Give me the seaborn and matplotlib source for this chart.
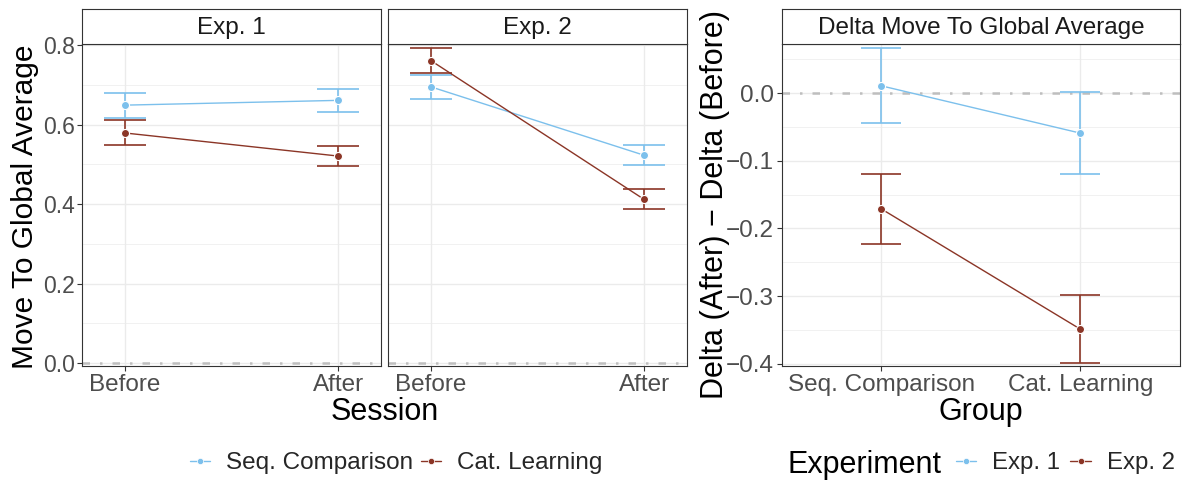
import numpy as np
import pandas as pd
import matplotlib
matplotlib.use("Agg")
import matplotlib.pyplot as plt
from matplotlib.lines import Line2D
import seaborn as sns

# ---------------- data ----------------
sessions = ["Before", "After"]
groups = ["Seq. Comparison", "Cat. Learning"]
experiments = ["Exp. 1", "Exp. 2"]

# Exp. 1 (left panel): mean, lower, upper per session
exp1_seq_mean = [0.649, 0.661]
exp1_seq_lo = [0.617, 0.632]
exp1_seq_hi = [0.680, 0.689]
exp1_cat_mean = [0.579, 0.521]
exp1_cat_lo = [0.548, 0.495]
exp1_cat_hi = [0.611, 0.547]

# Exp. 2 (middle panel)
exp2_seq_mean = [0.695, 0.523]
exp2_seq_lo = [0.664, 0.498]
exp2_seq_hi = [0.726, 0.548]
exp2_cat_mean = [0.761, 0.412]
exp2_cat_lo = [0.729, 0.387]
exp2_cat_hi = [0.792, 0.437]

# Delta panel (right): per experiment, values for groups
delta_exp1_mean = [0.011, -0.059]
delta_exp1_lo = [-0.044, -0.120]
delta_exp1_hi = [0.067, 0.002]
delta_exp2_mean = [-0.171, -0.349]
delta_exp2_lo = [-0.223, -0.399]
delta_exp2_hi = [-0.120, -0.298]

BLUE = "#7CC0EC"
RED = "#8B3526"

W, H = 1190, 480
sns.set_theme(style="white")

SANS = "Liberation Sans"
plt.rcParams["font.family"] = [SANS, "DejaVu Sans"]
plt.rcParams["axes.unicode_minus"] = True

TICK = 17.5
TITLE = 22
STRIP = 17.5

fig = plt.figure(figsize=(W / 100, H / 100), dpi=100)


def rect(x0, y0, x1, y1):
    return [x0 / W, 1 - y1 / H, (x1 - x0) / W, (y1 - y0) / H]


def style_panel(ax, ylim, xlim, major, minor):
    ax.set_xlim(*xlim)
    ax.set_ylim(*ylim)
    ax.set_facecolor("white")
    for s in ax.spines.values():
        s.set_color("#333333")
        s.set_linewidth(0.8)
        s.set_visible(True)
    ax.set_yticks(major)
    ax.set_yticks(minor, minor=True)
    ax.grid(True, which="major", color="#EBEBEB", lw=1.0, zorder=0)
    ax.grid(True, which="minor", axis="y", color="#EBEBEB", lw=0.5, zorder=0)
    ax.set_axisbelow(True)
    ax.tick_params(axis="both", which="major", length=3.5, width=0.8, color="#333333",
                   labelcolor="#4D4D4D", labelsize=TICK, pad=2, bottom=True, left=True)
    ax.tick_params(axis="both", which="minor", length=0)
    ax.set_xlabel("")
    ax.set_ylabel("")
    leg = ax.get_legend()
    if leg is not None:
        leg.remove()


def strip(x0, x1, text):
    sa = fig.add_axes(rect(x0, 9.3, x1, 44.3))
    sa.set_xticks([])
    sa.set_yticks([])
    sa.set_facecolor("white")
    for s in sa.spines.values():
        s.set_color("#333333")
        s.set_linewidth(0.8)
    sa.text(0.5, 0.47, text, ha="center", va="center", fontsize=STRIP,
            color="#1A1A1A", transform=sa.transAxes)


def draw(ax, df, hue_order, palette, capsize):
    for h in hue_order:
        d = df[df["hue"] == h]
        ax.errorbar(d["x"], d["mean"], yerr=[d["mean"] - d["lo"], d["hi"] - d["mean"]],
                    fmt="none", ecolor=palette[h], elinewidth=1.2, capsize=capsize,
                    capthick=1.2, zorder=2)
    sns.lineplot(data=df, x="x", y="mean", hue="hue", hue_order=hue_order,
                 palette=palette, marker="o", markersize=5.8, markeredgecolor="white",
                 markeredgewidth=0.8, linewidth=1.0, ax=ax, zorder=3, legend=False,
                 errorbar=None)


def hline0(ax):
    ax.axhline(0, color="#BEBEBE", lw=1.8, dashes=(3, 4, 1, 4), zorder=1)


# ---------- left panels ----------
left_specs = [
    ("Exp. 1", 82.3, 380.7,
     (exp1_seq_mean, exp1_seq_lo, exp1_seq_hi), (exp1_cat_mean, exp1_cat_lo, exp1_cat_hi)),
    ("Exp. 2", 388.3, 686.7,
     (exp2_seq_mean, exp2_seq_lo, exp2_seq_hi), (exp2_cat_mean, exp2_cat_lo, exp2_cat_hi)),
]
pal_g = {groups[0]: BLUE, groups[1]: RED}
for i, (title, x0, x1, seq, cat) in enumerate(left_specs):
    ax = fig.add_axes(rect(x0, 44.3, x1, 366))
    rows = []
    for g, (m, lo, hi) in zip(groups, [seq, cat]):
        for j, s in enumerate(sessions):
            rows.append(dict(x=j, session=s, hue=g, mean=m[j], lo=lo[j], hi=hi[j]))
    df = pd.DataFrame(rows)
    hline0(ax)
    draw(ax, df, groups, pal_g, capsize=15.3)
    style_panel(ax, (-0.007, 0.802), (-0.2, 1.2),
                [0.0, 0.2, 0.4, 0.6, 0.8], [0.1, 0.3, 0.5, 0.7])
    ax.set_xticks(range(len(sessions)))
    ax.set_xticklabels(sessions)
    if i == 0:
        ax.set_yticklabels(["0.0", "0.2", "0.4", "0.6", "0.8"])
        ax.tick_params(axis="y", which="major", labelsize=16.5)
    else:
        ax.set_yticklabels([])
        ax.tick_params(axis="y", which="major", length=0)
    strip(x0, x1, title)

fig.text(25 / W, 1 - 207 / H, "Move To Global Average", rotation=90, ha="center",
         va="center", fontsize=21.5, color="black")
fig.text(384.5 / W, 1 - 412 / H, "Session", ha="center", va="center", fontsize=TITLE,
         color="black")

# ---------- right panel ----------
axr = fig.add_axes(rect(781.7, 44.3, 1180, 366))
rows = []
for e, (m, lo, hi) in zip(experiments, [(delta_exp1_mean, delta_exp1_lo, delta_exp1_hi),
                                        (delta_exp2_mean, delta_exp2_lo, delta_exp2_hi)]):
    for j, g in enumerate(groups):
        rows.append(dict(x=j, group=g, hue=e, mean=m[j], lo=lo[j], hi=hi[j]))
dfr = pd.DataFrame(rows)
pal_e = {experiments[0]: BLUE, experiments[1]: RED}
hline0(axr)
draw(axr, dfr, experiments, pal_e, capsize=14.3)
style_panel(axr, (-0.4034, 0.0724), (-0.5, 1.5),
            [-0.4, -0.3, -0.2, -0.1, 0.0], [-0.35, -0.25, -0.15, -0.05, 0.05])
axr.set_xticks(range(len(groups)))
axr.set_xticklabels(groups)
axr.set_yticklabels(["\u22120.4", "\u22120.3", "\u22120.2", "\u22120.1", "0.0"])
strip(781.7, 1180, "Delta Move To Global Average")

fig.text(715 / W, 1 - 205 / H, "Delta (After) \u2212 Delta (Before)", rotation=90,
         ha="center", va="center", fontsize=TITLE, color="black")
fig.text(981 / W, 1 - 412 / H, "Group", ha="center", va="center", fontsize=TITLE,
         color="black")

# ---------- legends ----------
def handle(c):
    return Line2D([0], [0], color=c, lw=1.0, marker="o", markersize=4.5,
                  markeredgecolor="white", markeredgewidth=0.5)

fig.legend([handle(BLUE), handle(RED)], groups, loc="center",
           bbox_to_anchor=(396 / W, 1 - 463 / H), ncol=2, frameon=False,
           handlelength=0.85, handletextpad=0.65, columnspacing=0.3,
           prop={"family": SANS, "size": 17.5})

fig.text(787 / W, 1 - 465 / H, "Experiment", ha="left", va="center", fontsize=TITLE,
         color="black")
fig.legend([handle(BLUE), handle(RED)], experiments, loc="center left",
           bbox_to_anchor=(934 / W, 1 - 463 / H), ncol=2, frameon=False,
           handlelength=0.85, handletextpad=0.65, columnspacing=0.45,
           prop={"family": SANS, "size": 17.3})

fig.savefig("out.png", dpi=100)
